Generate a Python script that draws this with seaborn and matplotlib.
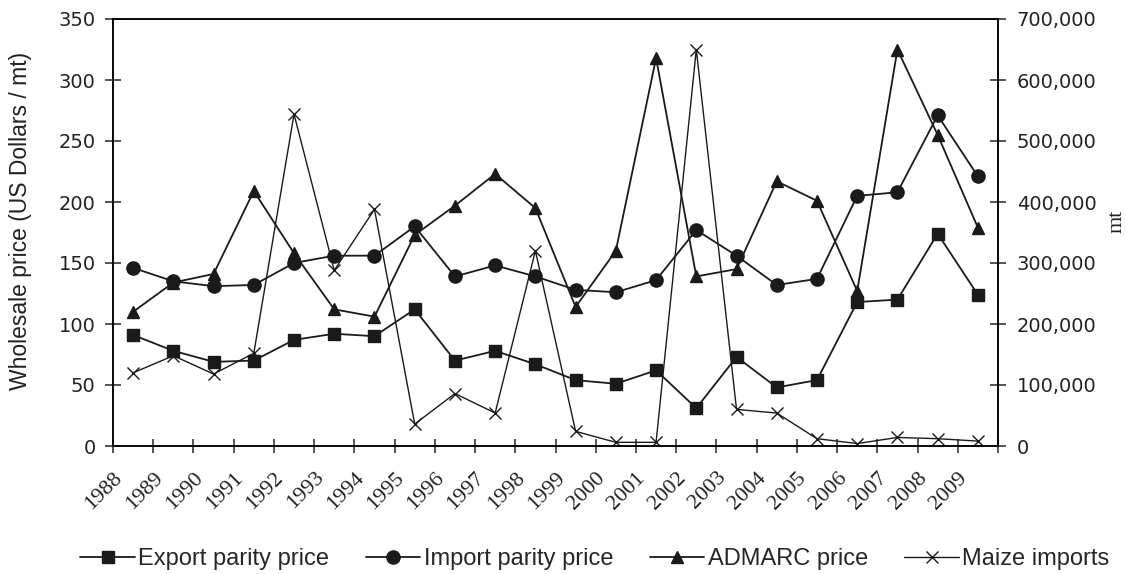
"""
Malawi maize prices vs maize imports, 1988-2009 (two y axes).
"""
import matplotlib
matplotlib.use("Agg")
import matplotlib.pyplot as plt
import matplotlib.transforms as mtransforms
from matplotlib.ticker import FuncFormatter
import seaborn as sns

# Data (points sit mid-way between year ticks)
years = list(range(1988, 2010))
export_parity = [91, 78, 69, 70, 87, 92, 90, 112, 70, 78, 67, 54, 51, 62, 31, 73, 48, 54, 118, 120, 174, 124]
import_parity = [146, 135, 131, 132, 150, 156, 156, 180, 139, 148, 139, 128, 126, 136, 177, 156, 132, 137, 205, 208, 271, 221]
admarc_price = [110, 134, 141, 209, 158, 112, 106, 173, 197, 223, 195, 114, 160, 318, 139, 145, 217, 201, 127, 325, 255, 179]
maize_imports = [120000, 148000, 118000, 152000, 544000, 288000, 388000, 36000, 86000, 54000, 320000,
                 24000, 6000, 6000, 650000, 60000, 54000, 12000, 4000, 14000, 12000, 8000]

sns.set_style("ticks")
plt.rcParams['font.family'] = ['Liberation Sans', 'DejaVu Sans']
plt.rcParams['axes.linewidth'] = 1.1
plt.rcParams['axes.edgecolor'] = 'black'

LINE = '#1a1a1a'
TXT = '#222222'

fig = plt.figure(figsize=(11.26, 5.74), dpi=100)
ax = fig.add_axes([113 / 1126, 1 - 446 / 574, (998 - 113) / 1126, (446 - 19) / 574])
ax2 = ax.twinx()

xs = [y + 0.5 for y in years]
common = dict(color=LINE, linewidth=1.3, markeredgecolor=LINE, markeredgewidth=1.0)

sns.lineplot(x=xs, y=export_parity, marker='s', markersize=8, ax=ax, label='Export parity price', **common)
sns.lineplot(x=xs, y=import_parity, marker='o', markersize=9.5, ax=ax, label='Import parity price', **common)
sns.lineplot(x=xs, y=admarc_price, marker='^', markersize=9, ax=ax, label='ADMARC price', **common)
sns.lineplot(x=xs, y=maize_imports, marker='x', markersize=9, ax=ax2, label='Maize imports',
             color=LINE, linewidth=1.0, markeredgecolor=LINE, markeredgewidth=1.0)

# axes ranges and ticks
ax.set_xlim(1988, 2010)
ax.set_ylim(0, 350)
ax2.set_ylim(0, 700000)
ax.set_xticks(range(1988, 2011))
ax.set_xticklabels([str(y) for y in years] + [''], rotation=45, ha='right',
                   rotation_mode='anchor', family='Liberation Serif', fontsize=16, color=TXT)
offset = mtransforms.ScaledTranslation(11 / 100, 0, fig.dpi_scale_trans)
for lbl in ax.get_xticklabels():
    lbl.set_transform(lbl.get_transform() + offset)

ax.set_yticks(range(0, 351, 50))
ax2.set_yticks(range(0, 700001, 100000))
ax2.yaxis.set_major_formatter(FuncFormatter(lambda v, p: f"{int(v):,}"))

for lbl in ax.get_yticklabels() + ax2.get_yticklabels():
    lbl.set_family('DejaVu Sans')
    lbl.set_fontsize(14)
    lbl.set_color(TXT)

ax.tick_params(axis='y', direction='inout', length=11, width=1.1, pad=7)
ax.tick_params(axis='x', direction='inout', length=10, width=1.1, pad=11)
ax2.tick_params(axis='y', direction='inout', length=11, width=1.1, pad=8)

for a in (ax, ax2):
    for s in a.spines.values():
        s.set_visible(True)
        s.set_linewidth(1.1)
        s.set_color('black')

ax.set_ylabel('Wholesale price (US Dollars / mt)', fontsize=16.5, color=TXT)
ax.yaxis.set_label_coords(-0.0915, 0.527)
ax2.set_ylabel('mt', fontsize=16, family='Liberation Serif', color=TXT)
ax2.yaxis.set_label_coords(1.124, 0.527)
ax.set_xlabel('')

# one legend at the bottom for all four series
h1, l1 = ax.get_legend_handles_labels()
h2, l2 = ax2.get_legend_handles_labels()
ax.get_legend().remove()
ax2.get_legend().remove()
fig.legend(h1 + h2, l1 + l2, loc='center', bbox_to_anchor=(595 / 1126, 0.026), ncol=4, frameon=False,
           fontsize=17, handlelength=2.3, handletextpad=0.15, columnspacing=1.55)

fig.savefig('out.png', dpi=100)
